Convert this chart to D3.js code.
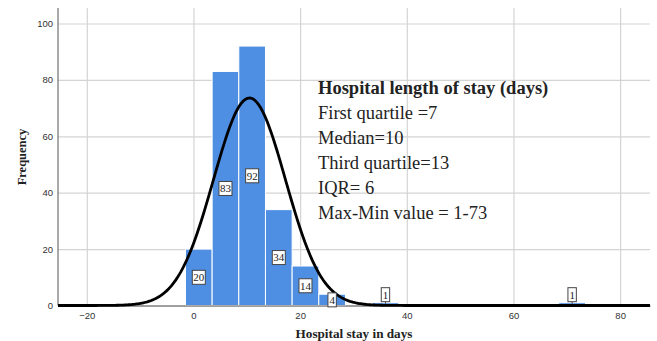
<!DOCTYPE html>
<html>
<head>
<meta charset="utf-8">
<script src="https://cdn.jsdelivr.net/npm/d3@7"></script>
<style>
  body { margin: 0; background: #fff; }
  svg { display: block; }
</style>
</head>
<body>
<svg id="chart"></svg>
<script>
// histogram bins (centre of each 5-day bin) and counts
let binCenters = [1, 6, 11, 16, 21, 26, 31, 36, 41, 46, 51, 56, 61, 66, 71]
let counts     = [20, 83, 92, 34, 14, 4, 0, 1, 0, 0, 0, 0, 0, 0, 1]
let binWidth = 5

let xTicks = [-20, 0, 20, 40, 60, 80]
let yTicks = [0, 20, 40, 60, 80, 100]

// fitted normal curve parameters
let curveMean = 10.5
let curveSd = 6.75

let statsTitle = 'Hospital length of stay (days)'
let statsLines = ['First quartile =7', 'Median=10', 'Third quartile=13', 'IQR= 6', 'Max-Min value = 1-73']

let width = 657
let height = 341
let plotLeft = 58, plotRight = 650, plotTop = 8, plotBottom = 305.5

let svg = d3.select('#chart').attr('width', width).attr('height', height)

let xScale = d3.scaleLinear().domain([-25.4, 85.6]).range([plotLeft, plotRight])
let yScale = d3.scaleLinear().domain([0, 105.5]).range([plotBottom, plotTop])

// gridlines
svg.append('g')
    .attr('transform', 'translate(0,' + plotBottom + ')')
    .call(d3.axisBottom(xScale).tickValues(xTicks).tickSize(-(plotBottom - plotTop)).tickFormat(''))
    .call(g => g.select('.domain').remove())
    .call(g => g.selectAll('line').attr('stroke', '#d4d4d4').attr('stroke-width', 1.2))

svg.append('g')
    .attr('transform', 'translate(' + plotLeft + ',0)')
    .call(d3.axisLeft(yScale).tickValues(yTicks).tickSize(-(plotRight - plotLeft)).tickFormat(''))
    .call(g => g.select('.domain').remove())
    .call(g => g.selectAll('line').attr('stroke', '#d4d4d4').attr('stroke-width', 1.2))

// bars
let bins = binCenters.map((c, i) => ({ c: c, n: counts[i] })).filter(d => d.n > 0)

svg.selectAll('rect.bar')
    .data(bins)
    .enter()
    .append('rect')
    .attr('class', 'bar')
    .attr('x', d => xScale(d.c - binWidth / 2))
    .attr('width', d => xScale(d.c + binWidth / 2) - xScale(d.c - binWidth / 2))
    .attr('y', d => yScale(d.n))
    .attr('height', d => yScale(0) - yScale(d.n))
    .attr('fill', '#4f8fe3')
    .attr('stroke', '#ffffff')
    .attr('stroke-width', 1)

// axes
let xAxis = d3.axisBottom(xScale).tickValues(xTicks).tickSize(0).tickPadding(7)
let yAxis = d3.axisLeft(yScale).tickValues(yTicks).tickSize(0).tickPadding(5)

svg.append('g')
    .attr('transform', 'translate(0,' + plotBottom + ')')
    .call(xAxis)
    .call(g => g.select('.domain').attr('stroke', '#555'))
    .call(g => g.selectAll('text').attr('font-family', 'Liberation Sans, Arial, sans-serif')
        .attr('font-size', 9.5).attr('fill', '#333'))

svg.append('g')
    .attr('transform', 'translate(' + plotLeft + ',0)')
    .call(yAxis)
    .call(g => g.select('.domain').attr('stroke', '#555').attr('d', 'M0,' + plotTop + 'V' + plotBottom))
    .call(g => g.selectAll('text').attr('font-family', 'Liberation Sans, Arial, sans-serif')
        .attr('font-size', 9.5).attr('fill', '#333'))

// normal curve
let total = d3.sum(counts)
let curvePts = d3.range(xScale.domain()[0], xScale.domain()[1] + 0.01, 0.25).map(x => {
    let z = (x - curveMean) / curveSd
    return [x, total * binWidth / (curveSd * Math.sqrt(2 * Math.PI)) * Math.exp(-0.5 * z * z)]
})

svg.append('path')
    .datum(curvePts)
    .attr('fill', 'none')
    .attr('stroke', '#000')
    .attr('stroke-width', 2.8)
    .attr('d', d3.line().x(d => xScale(d[0])).y(d => Math.min(yScale(d[1]), plotBottom)))

// count labels
let labels = svg.selectAll('g.lbl')
    .data(bins)
    .enter()
    .append('g')
    .attr('class', 'lbl')
    .attr('transform', d => {
        let cy = d.n >= 3 ? yScale(d.n / 2) : yScale(d.n) - 8
        return 'translate(' + xScale(d.c) + ',' + cy + ')'
    })

labels.filter(d => d.n < 3)
    .append('line')
    .attr('x1', 0).attr('x2', 0)
    .attr('y1', 7).attr('y2', 9)
    .attr('stroke', '#444')

labels.append('rect')
    .attr('x', d => String(d.n).length > 1 ? -6.5 : -4.2)
    .attr('width', d => String(d.n).length > 1 ? 13 : 8.4)
    .attr('y', -7)
    .attr('height', 14)
    .attr('fill', '#fff')
    .attr('stroke', '#444')
    .attr('stroke-width', 1)

labels.append('text')
    .attr('text-anchor', 'middle')
    .attr('dy', '0.35em')
    .attr('font-family', 'Liberation Serif, Times New Roman, serif')
    .attr('font-size', 11)
    .attr('fill', '#222')
    .text(d => d.n)

// stats block
let stats = svg.append('g')
    .attr('font-family', 'Liberation Serif, Times New Roman, serif')
    .attr('font-size', 18.5)
    .attr('fill', '#222')

stats.append('text')
    .attr('x', 318)
    .attr('y', 93.5)
    .attr('font-weight', 'bold')
    .text(statsTitle)

stats.selectAll('text.line')
    .data(statsLines)
    .enter()
    .append('text')
    .attr('class', 'line')
    .attr('x', 318)
    .attr('y', (d, i) => 118.5 + i * 25.2)
    .text(d => d)

// axis titles
svg.append('text')
    .attr('x', 354)
    .attr('y', 338)
    .attr('text-anchor', 'middle')
    .attr('font-family', 'Liberation Serif, Times New Roman, serif')
    .attr('font-weight', 'bold')
    .attr('font-size', 13.2)
    .attr('fill', '#222')
    .text('Hospital stay in days')

svg.append('text')
    .attr('transform', 'translate(25.5,157) rotate(-90)')
    .attr('text-anchor', 'middle')
    .attr('font-family', 'Liberation Serif, Times New Roman, serif')
    .attr('font-weight', 'bold')
    .attr('font-size', 12.5)
    .attr('fill', '#222')
    .text('Frequency')
</script>
</body>
</html>
